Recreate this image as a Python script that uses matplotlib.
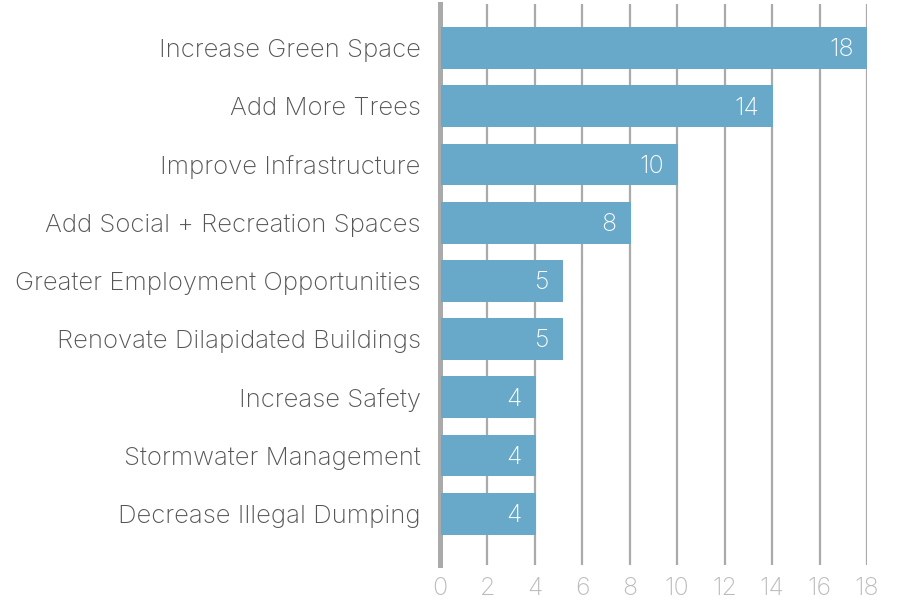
import matplotlib.pyplot as plt
import numpy as np

categories = [
    "Increase Green Space",
    "Add More Trees",
    "Improve Infrastructure",
    "Add Social + Recreation Spaces",
    "Greater Employment Opportunities",
    "Renovate Dilapidated Buildings",
    "Increase Safety",
    "Stormwater Management",
    "Decrease Illegal Dumping",
]
values = [18, 14, 10, 8, 5.15, 5.15, 4, 4, 4]
value_labels = ["18", "14", "10", "8", "5", "5", "4", "4", "4"]
x_ticks = [0, 2, 4, 6, 8, 10, 12, 14, 16, 18]

plt.rcParams['font.family'] = ['Inter', 'DejaVu Sans']

bar_color = '#68a8c8'
grid_color = '#aaaaaa'

fig = plt.figure(figsize=(8.99, 6.02), dpi=100)
ax = fig.add_axes([0.4894, 0.0615, 0.4750, 0.9319])

y = np.arange(len(categories))
ax.barh(y, values, height=0.72, color=bar_color, zorder=3, left=0.04)

for yi, v, lab in zip(y, values, value_labels):
    ax.text(v - 0.55, yi + 0.03, lab, ha='right', va='center', color='white',
            fontsize=18, fontweight='light', zorder=4)

ax.set_xlim(0, 18)
ax.set_ylim(8.88, -0.757)

ax.set_xticks(x_ticks)
ax.set_xticklabels([str(t) for t in x_ticks], color='#bbbbbb', fontsize=18, fontweight='light')
ax.set_yticks(y)
ax.set_yticklabels(categories, color='#555555', fontsize=18.5, fontweight='light')
ax.tick_params(axis='both', length=0)
ax.tick_params(axis='x', pad=9)
ax.tick_params(axis='y', pad=14)
for t in ax.get_yticklabels():
    t.set_y(t.get_position()[1])

ax.xaxis.grid(True, color=grid_color, linewidth=1.6, zorder=0)
for s in ['top', 'right', 'bottom']:
    ax.spines[s].set_visible(False)
ax.spines['left'].set_color(grid_color)
ax.spines['left'].set_linewidth(3.6)

fig.savefig('out.png', dpi=100)
